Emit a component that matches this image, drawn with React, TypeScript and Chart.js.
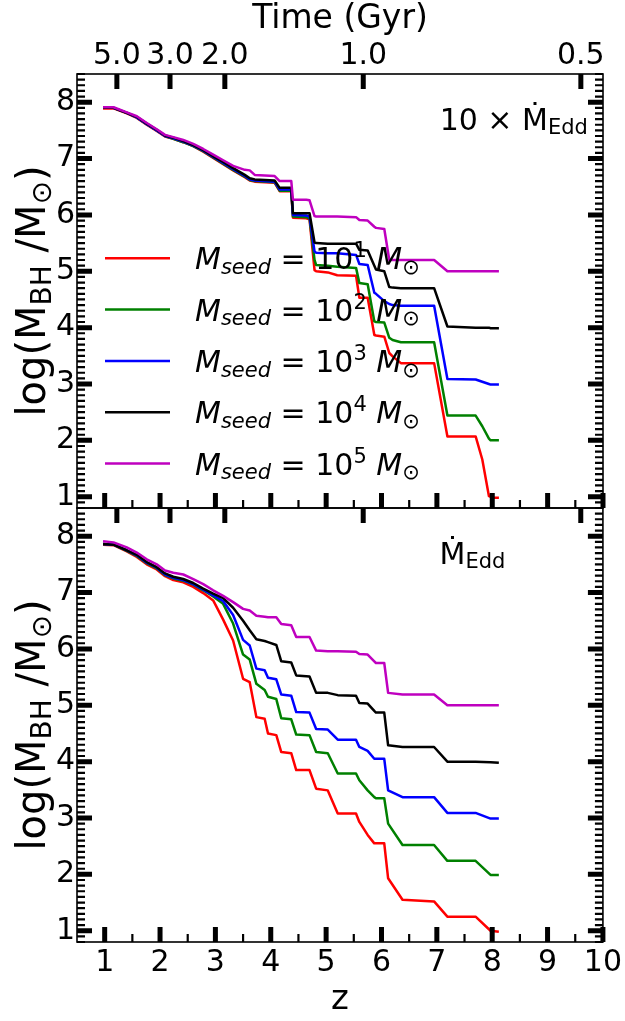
import { useEffect, useRef } from 'react';
import { Chart, registerables } from 'chart.js';

Chart.register(...registerables);

const FONT = "'DejaVu Sans', 'Liberation Sans', sans-serif";

// Redshift samples for the 10x Eddington panel
const zTop = [0.97, 1.16, 1.4, 1.58, 1.76, 1.94, 2.09, 2.24, 2.42, 2.6, 2.78, 2.96, 3.14, 3.32, 3.53, 3.62, 3.71, 4.07, 4.16, 4.37, 4.4, 4.64, 4.7, 4.79, 4.82, 5.03, 5.2, 5.54, 5.6, 5.75, 5.87, 5.9, 6.05, 6.14, 6.2, 6.35, 6.95, 7.19, 7.7, 7.82, 7.94, 7.97, 8.03, 8.12];
const topSeed1 = [7.89, 7.89, 7.8, 7.72, 7.6, 7.49, 7.39, 7.35, 7.29, 7.22, 7.12, 7.01, 6.9, 6.79, 6.67, 6.61, 6.59, 6.57, 6.42, 6.42, 5.95, 5.94, 5.92, 5.02, 5.0, 4.98, 4.93, 4.92, 4.53, 4.53, 3.87, 3.86, 3.84, 3.55, 3.49, 3.37, 3.37, 2.07, 2.07, 1.66, 1.01, 1.0, 0.98, 0.98];
const topSeed2 = [7.9, 7.9, 7.81, 7.73, 7.61, 7.5, 7.4, 7.35, 7.29, 7.22, 7.13, 7.02, 6.91, 6.8, 6.68, 6.62, 6.6, 6.58, 6.43, 6.43, 5.97, 5.96, 5.94, 5.2, 5.11, 5.1, 5.08, 5.06, 4.79, 4.77, 4.11, 4.1, 4.09, 3.82, 3.78, 3.74, 3.74, 2.44, 2.44, 2.25, 2.03, 2.0, 2.0, 2.0];
const topSeed3 = [7.9, 7.9, 7.81, 7.73, 7.61, 7.5, 7.4, 7.36, 7.3, 7.23, 7.14, 7.03, 6.92, 6.81, 6.69, 6.63, 6.61, 6.59, 6.45, 6.45, 6.0, 5.99, 5.97, 5.35, 5.33, 5.32, 5.32, 5.29, 5.13, 5.11, 4.62, 4.6, 4.47, 4.42, 4.4, 4.39, 4.39, 3.09, 3.08, 3.04, 3.0, 2.99, 2.99, 2.99];
const topSeed4 = [7.9, 7.9, 7.81, 7.74, 7.62, 7.51, 7.41, 7.37, 7.31, 7.24, 7.15, 7.04, 6.94, 6.83, 6.71, 6.65, 6.63, 6.61, 6.48, 6.48, 6.03, 6.03, 6.03, 5.51, 5.5, 5.49, 5.49, 5.49, 5.38, 5.37, 5.1, 5.03, 5.0, 4.72, 4.71, 4.7, 4.7, 4.02, 4.0, 4.0, 4.0, 3.99, 3.99, 3.99];
const topSeed5 = [7.91, 7.91, 7.82, 7.75, 7.63, 7.52, 7.42, 7.38, 7.33, 7.26, 7.17, 7.07, 6.97, 6.87, 6.8, 6.79, 6.71, 6.69, 6.6, 6.6, 6.27, 6.27, 6.26, 5.98, 5.97, 5.97, 5.97, 5.96, 5.91, 5.9, 5.79, 5.77, 5.75, 5.2, 5.2, 5.2, 5.2, 5.0, 5.0, 5.0, 5.0, 5.0, 5.0, 5.0];

// Redshift samples for the Eddington panel
const zBottom = [0.97, 1.16, 1.4, 1.58, 1.76, 1.94, 2.09, 2.24, 2.42, 2.6, 2.78, 2.96, 3.14, 3.32, 3.5, 3.62, 3.74, 3.89, 3.95, 4.1, 4.19, 4.37, 4.46, 4.7, 4.82, 5.03, 5.21, 5.54, 5.6, 5.75, 5.87, 5.9, 6.05, 6.12, 6.38, 6.95, 7.19, 7.7, 7.97, 8.12];
const bottomSeed1 = [7.85, 7.84, 7.73, 7.63, 7.5, 7.41, 7.29, 7.22, 7.18, 7.1, 6.99, 6.86, 6.52, 6.15, 5.47, 5.41, 4.79, 4.76, 4.5, 4.47, 4.17, 4.15, 3.85, 3.85, 3.52, 3.49, 3.08, 3.08, 2.93, 2.7, 2.55, 2.55, 2.55, 1.93, 1.55, 1.52, 1.25, 1.25, 1.0, 0.98];
const bottomSeed2 = [7.86, 7.85, 7.74, 7.65, 7.52, 7.43, 7.31, 7.25, 7.21, 7.14, 7.04, 6.93, 6.8, 6.45, 5.9, 5.81, 5.38, 5.27, 5.15, 5.11, 4.77, 4.75, 4.48, 4.47, 4.17, 4.15, 3.79, 3.79, 3.67, 3.49, 3.37, 3.35, 3.35, 2.9, 2.52, 2.52, 2.24, 2.24, 1.99, 1.99];
const bottomSeed3 = [7.86, 7.85, 7.75, 7.66, 7.53, 7.44, 7.32, 7.26, 7.22, 7.15, 7.05, 6.95, 6.85, 6.6, 6.16, 6.06, 5.65, 5.62, 5.49, 5.46, 5.19, 5.17, 4.88, 4.87, 4.58, 4.57, 4.39, 4.39, 4.26, 4.19, 4.05, 4.05, 4.05, 3.49, 3.37, 3.37, 3.09, 3.09, 2.99, 2.99];
const bottomSeed4 = [7.86, 7.85, 7.75, 7.67, 7.54, 7.45, 7.34, 7.28, 7.24, 7.17, 7.07, 6.98, 6.9, 6.73, 6.5, 6.33, 6.17, 6.14, 6.12, 6.07, 5.78, 5.76, 5.53, 5.51, 5.22, 5.22, 5.18, 5.17, 5.04, 5.03, 4.9, 4.87, 4.87, 4.29, 4.26, 4.26, 4.0, 4.0, 3.99, 3.98];
const bottomSeed5 = [7.91, 7.89, 7.8, 7.71, 7.59, 7.5, 7.39, 7.35, 7.32, 7.24, 7.15, 7.04, 6.94, 6.83, 6.71, 6.68, 6.59, 6.57, 6.56, 6.56, 6.44, 6.42, 6.21, 6.21, 5.97, 5.96, 5.96, 5.95, 5.91, 5.9, 5.78, 5.75, 5.75, 5.22, 5.19, 5.19, 5.0, 5.0, 5.0, 5.0];

const seedExponents = ['1', '2', '3', '4', '5'];
const seedColors = ['#ff0000', '#008000', '#0000ff', '#000000', '#bf00bf'];

const zTickValues = [1, 2, 3, 4, 5, 6, 7, 8, 9, 10];
const zTickLabels = ['1', '2', '3', '4', '5', '6', '7', '8', '9', '10'];
const yTickValues = [1, 2, 3, 4, 5, 6, 7, 8];
const yTickLabels = ['1', '2', '3', '4', '5', '6', '7', '8'];
const timeTickZ = [1.22, 2.18, 3.17, 5.67, 9.6];
const timeTickLabels = ['5.0', '3.0', '2.0', '1.0', '0.5'];

const Z_MIN = 0.5;
const Z_MAX = 10;
const Y_MIN = 0.8;
const Y_MAX = 8.5;

type Run = { text: string; italic?: boolean; scale?: number; shift?: number };

function runsWidth(ctx: CanvasRenderingContext2D, runs: Run[], size: number) {
  let w = 0;
  for (const r of runs) {
    ctx.font = `${r.italic ? 'italic ' : ''}${size * (r.scale ?? 1)}px ${FONT}`;
    w += ctx.measureText(r.text).width;
  }
  return w;
}

function drawRuns(ctx: CanvasRenderingContext2D, runs: Run[], x: number, y: number, size: number) {
  let cx = x;
  ctx.textBaseline = 'alphabetic';
  ctx.textAlign = 'left';
  for (const r of runs) {
    ctx.font = `${r.italic ? 'italic ' : ''}${size * (r.scale ?? 1)}px ${FONT}`;
    ctx.fillText(r.text, cx, y + (r.shift ?? 0) * size);
    cx += ctx.measureText(r.text).width;
  }
}

const seedRuns = (e: string): Run[] => [
  { text: 'M', italic: true },
  { text: 'seed', italic: true, scale: 0.7, shift: 0.16 },
  { text: ' = 10' },
  { text: e, scale: 0.7, shift: -0.4 },
  { text: ' ' },
  { text: 'M', italic: true },
  { text: '\u2299', scale: 0.7, shift: 0.16 },
];

const yLabelRuns: Run[] = [
  { text: 'log(M' },
  { text: 'BH', scale: 0.7, shift: 0.16 },
  { text: ' /M' },
  { text: '\u2299', scale: 0.7, shift: 0.16 },
  { text: ')' },
];

const rateRuns = (prefix: string): Run[] => [
  ...(prefix ? [{ text: prefix }] : []),
  { text: '\u1E40' },
  { text: 'Edd', scale: 0.7, shift: 0.13 },
];

function panelPlugin(panel: 'top' | 'bottom') {
  return {
    id: 'panelDecor_' + panel,
    afterDraw(chart: any) {
      const { ctx, chartArea: a, scales } = chart;
      const xs = scales.x;
      const ys = scales.y;
      ctx.save();
      ctx.strokeStyle = '#000';
      ctx.fillStyle = '#000';
      ctx.lineCap = 'butt';

      const hTick = (v: number, len: number, w: number) => {
        const py = ys.getPixelForValue(v);
        ctx.lineWidth = w;
        ctx.beginPath();
        ctx.moveTo(a.left, py);
        ctx.lineTo(a.left + len, py);
        ctx.moveTo(a.right, py);
        ctx.lineTo(a.right - len, py);
        ctx.stroke();
      };
      // minor y ticks every 0.1
      for (let k = Math.round(Y_MIN * 10); k <= Math.round(Y_MAX * 10); k++) {
        if (k % 10 === 0) continue;
        hTick(k / 10, 8, 2.2);
      }
      yTickValues.forEach((v) => hTick(v, 15, 5));

      // bottom edge: redshift ticks
      const bTick = (v: number, len: number, w: number) => {
        const px = xs.getPixelForValue(v);
        ctx.lineWidth = w;
        ctx.beginPath();
        ctx.moveTo(px, a.bottom);
        ctx.lineTo(px, a.bottom - len);
        ctx.stroke();
      };
      for (let k = 1; k < 20; k++) {
        const v = k / 2;
        if (v <= Z_MIN || v >= Z_MAX || k % 2 === 0) continue;
        bTick(v, 8, 2.2);
      }
      zTickValues.forEach((v) => bTick(v, 15, 5));

      // top edge: cosmic time ticks
      timeTickZ.forEach((v) => {
        const px = xs.getPixelForValue(v);
        ctx.lineWidth = 5;
        ctx.beginPath();
        ctx.moveTo(px, a.top);
        ctx.lineTo(px, a.top + 15);
        ctx.stroke();
      });

      // frame
      ctx.lineWidth = 1.6;
      ctx.strokeRect(a.left, a.top, a.right - a.left, a.bottom - a.top);

      // y axis label
      const ySize = 40;
      const w = runsWidth(ctx, yLabelRuns, ySize);
      ctx.save();
      ctx.translate(45, (a.top + a.bottom) / 2);
      ctx.rotate(-Math.PI / 2);
      drawRuns(ctx, yLabelRuns, -w / 2, 0, ySize);
      ctx.restore();

      // accretion-rate annotation
      const ax = xs.getPixelForValue(7.05);
      const ay = ys.getPixelForValue(7.5);
      drawRuns(ctx, rateRuns(panel === 'top' ? '10 \u00D7 ' : ''), ax, ay, 30);

      // legend (top panel)
      if (panel === 'top') {
        seedExponents.forEach((e, i) => {
          const cy = a.top + 184.3 + i * 51.3;
          ctx.strokeStyle = seedColors[i];
          ctx.lineWidth = 2.5;
          ctx.beginPath();
          ctx.moveTo(a.left + 28, cy);
          ctx.lineTo(a.left + 93, cy);
          ctx.stroke();
          ctx.fillStyle = '#000';
          drawRuns(ctx, seedRuns(e), a.left + 118, cy + 11, 30);
        });
      }
      ctx.restore();
    },
  };
}

function buildConfig(panel: 'top' | 'bottom'): any {
  const zs = panel === 'top' ? zTop : zBottom;
  const series = panel === 'top'
    ? [topSeed1, topSeed2, topSeed3, topSeed4, topSeed5]
    : [bottomSeed1, bottomSeed2, bottomSeed3, bottomSeed4, bottomSeed5];

  const datasets = series.map((vals, i) => ({
    label: 'M_seed = 10^' + seedExponents[i],
    data: zs.map((z, j) => ({ x: z, y: vals[j] })),
    borderColor: seedColors[i],
    backgroundColor: seedColors[i],
    borderWidth: 2.5,
    pointRadius: 0,
    tension: 0,
    fill: false,
    borderJoinStyle: 'round',
    order: series.length - i,
  }));

  const tickFont = { size: 30, family: FONT };

  const yScale = {
    type: 'linear',
    position: 'left',
    min: Y_MIN,
    max: Y_MAX,
    grid: { display: false, drawTicks: false },
    border: { display: false },
    afterBuildTicks: (s: any) => { s.ticks = yTickValues.map((v) => ({ value: v })); },
    afterFit: (s: any) => { s.width = 77; },
    ticks: {
      color: '#000',
      font: tickFont,
      padding: 2,
      callback: (_v: any, i: number) => yTickLabels[i],
    },
  };

  const scales: any = { y: yScale };
  if (panel === 'top') {
    scales.x = { type: 'linear', min: Z_MIN, max: Z_MAX, display: false };
    scales.xTime = {
      type: 'linear',
      position: 'top',
      min: Z_MIN,
      max: Z_MAX,
      grid: { display: false, drawTicks: false },
      border: { display: false },
      afterBuildTicks: (s: any) => { s.ticks = timeTickZ.map((v) => ({ value: v })); },
      afterFit: (s: any) => { s.height = 74; },
      ticks: {
        autoSkip: false,
        maxRotation: 0,
        minRotation: 0,
        color: '#000',
        font: tickFont,
        padding: 0,
        callback: (_v: any, i: number) => timeTickLabels[i],
      },
      title: {
        display: true,
        text: 'Time (Gyr)',
        color: '#000',
        font: { size: 33, family: FONT },
        padding: { top: 0, bottom: 0 },
      },
    };
  } else {
    scales.x = {
      type: 'linear',
      position: 'bottom',
      min: Z_MIN,
      max: Z_MAX,
      grid: { display: false, drawTicks: false },
      border: { display: false },
      afterBuildTicks: (s: any) => { s.ticks = zTickValues.map((v) => ({ value: v })); },
      afterFit: (s: any) => { s.height = 79; },
      ticks: {
        autoSkip: false,
        maxRotation: 0,
        minRotation: 0,
        color: '#000',
        font: tickFont,
        padding: 3,
        callback: (_v: any, i: number) => zTickLabels[i],
      },
      title: {
        display: true,
        text: 'z',
        color: '#000',
        font: { size: 34, family: FONT },
        padding: { top: 0, bottom: 0 },
      },
    };
  }

  return {
    type: 'line',
    data: { datasets },
    options: {
      animation: false,
      responsive: false,
      events: [],
      layout: {
        padding: panel === 'top'
          ? { left: 0, right: 22, top: 0, bottom: 1021 - 508 }
          : { left: 0, right: 22, top: 508, bottom: 0 },
      },
      plugins: { legend: { display: false }, tooltip: { enabled: false } },
      scales,
    },
    plugins: [panelPlugin(panel)],
  };
}

function Panel({ panel }: { panel: 'top' | 'bottom' }) {
  const ref = useRef<HTMLCanvasElement | null>(null);
  useEffect(() => {
    if (!ref.current) return;
    const chart = new Chart(ref.current, buildConfig(panel));
    return () => chart.destroy();
  }, [panel]);
  return (
    <canvas
      ref={ref}
      width={625}
      height={1021}
      style={{ position: 'absolute', left: 0, top: 0, width: 625, height: 1021 }}
    />
  );
}

export default function App() {
  return (
    <div style={{ position: 'absolute', left: 0, top: 0, width: 625, height: 1021, background: '#fff' }}>
      <Panel panel="bottom" />
      <Panel panel="top" />
    </div>
  );
}
